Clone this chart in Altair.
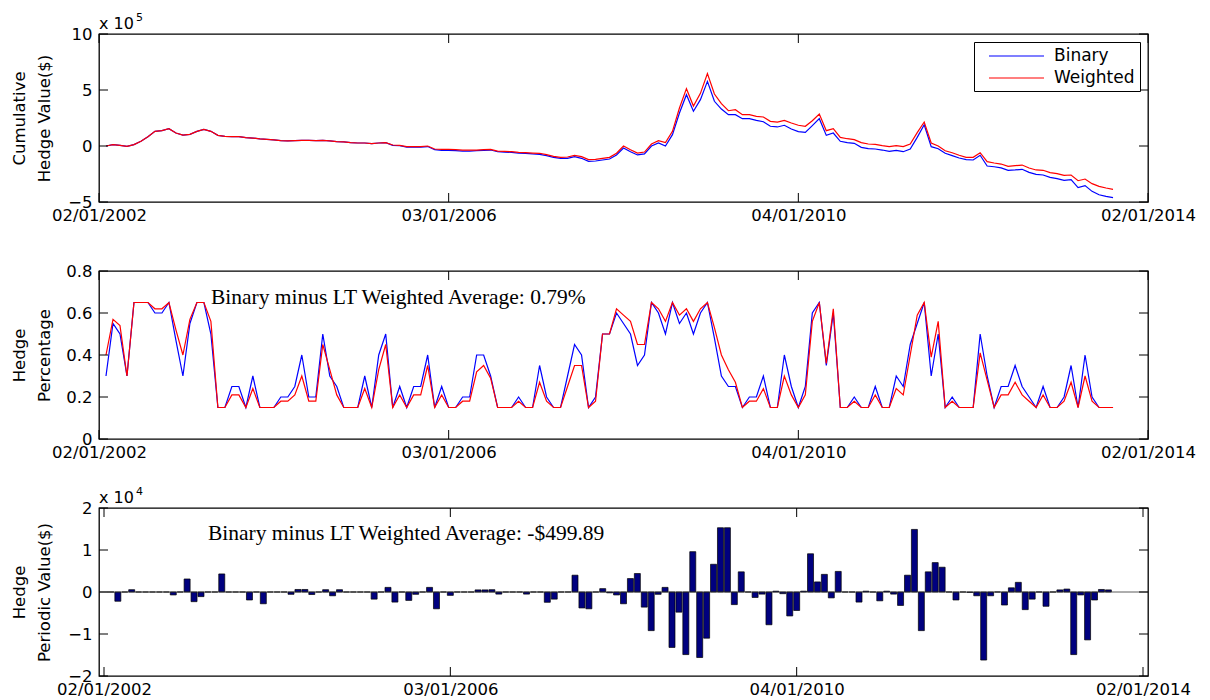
import altair as alt
import pandas as pd

# ---------------- data ----------------
# x positions are period indices 0..144
cum_binary = [  # cumulative hedge value, units of 1e5 $
    0.00, 0.12, 0.06, -0.03, 0.12, 0.42, 0.83, 1.31, 1.37, 1.55,
    1.16, 0.98, 1.04, 1.31, 1.49, 1.31, 0.95, 0.86, 0.83, 0.83,
    0.74, 0.71, 0.63, 0.60, 0.54, 0.48, 0.45, 0.48, 0.51, 0.51,
    0.48, 0.51, 0.45, 0.39, 0.36, 0.30, 0.27, 0.27, 0.21, 0.27,
    0.30, 0.06, 0.03, -0.10, -0.10, -0.10, -0.05, -0.33, -0.39, -0.39,
    -0.42, -0.45, -0.45, -0.42, -0.39, -0.36, -0.51, -0.54, -0.57, -0.63,
    -0.65, -0.71, -0.74, -0.86, -1.01, -1.10, -1.10, -0.95, -1.10, -1.37,
    -1.34, -1.25, -1.16, -0.80, -0.18, -0.51, -0.80, -0.71, 0.00, 0.27,
    0.00, 1.01, 2.95, 4.58, 3.10, 4.14, 5.77, 3.99, 3.30, 2.80,
    2.80, 2.44, 2.44, 2.29, 2.17, 1.76, 1.70, 1.85, 1.52, 1.28,
    1.22, 1.82, 2.44, 0.95, 1.16, 0.42, 0.30, 0.24, -0.12, -0.24,
    -0.27, -0.36, -0.48, -0.39, -0.51, -0.27, 0.77, 1.90, -0.06, -0.24,
    -0.65, -0.86, -1.07, -1.22, -1.25, -0.83, -1.79, -1.85, -1.96, -2.17,
    -2.14, -2.08, -2.35, -2.53, -2.59, -2.80, -2.92, -3.07, -3.01, -3.72,
    -3.54, -4.05, -4.35, -4.49, -4.61,
]
cum_weighted = [
    0.00, 0.12, 0.06, -0.03, 0.12, 0.42, 0.83, 1.31, 1.37, 1.55,
    1.16, 0.98, 1.04, 1.31, 1.49, 1.31, 0.95, 0.86, 0.83, 0.83,
    0.74, 0.71, 0.63, 0.60, 0.54, 0.48, 0.45, 0.48, 0.51, 0.51,
    0.48, 0.51, 0.45, 0.39, 0.36, 0.30, 0.27, 0.27, 0.21, 0.27,
    0.30, 0.09, 0.06, -0.06, -0.06, -0.06, 0.00, -0.27, -0.30, -0.30,
    -0.33, -0.36, -0.36, -0.36, -0.33, -0.30, -0.45, -0.48, -0.51, -0.57,
    -0.60, -0.63, -0.65, -0.77, -0.92, -1.01, -0.98, -0.83, -0.95, -1.22,
    -1.19, -1.10, -1.01, -0.65, 0.00, -0.33, -0.63, -0.54, 0.18, 0.48,
    0.30, 1.31, 3.39, 5.12, 3.57, 4.70, 6.46, 4.64, 3.78, 3.15,
    3.24, 2.80, 2.80, 2.65, 2.59, 2.20, 2.14, 2.29, 2.05, 1.85,
    1.76, 2.26, 2.86, 1.37, 1.55, 0.77, 0.65, 0.57, 0.30, 0.18,
    0.15, 0.03, -0.06, 0.03, -0.06, 0.18, 1.19, 2.14, 0.27, 0.00,
    -0.42, -0.60, -0.83, -1.01, -1.01, -0.60, -1.40, -1.52, -1.61, -1.82,
    -1.76, -1.70, -1.96, -2.14, -2.17, -2.38, -2.47, -2.62, -2.59, -3.10,
    -2.95, -3.36, -3.60, -3.75, -3.87,
]
pct_binary = [  # hedge percentage
    0.30, 0.55, 0.50, 0.30, 0.65, 0.65, 0.65, 0.60, 0.60, 0.65,
    0.47, 0.30, 0.55, 0.65, 0.65, 0.50, 0.15, 0.15, 0.25, 0.25,
    0.15, 0.30, 0.15, 0.15, 0.15, 0.20, 0.20, 0.25, 0.40, 0.20,
    0.20, 0.50, 0.30, 0.25, 0.15, 0.15, 0.15, 0.30, 0.15, 0.40,
    0.50, 0.15, 0.25, 0.15, 0.25, 0.25, 0.40, 0.15, 0.25, 0.15,
    0.15, 0.20, 0.20, 0.40, 0.40, 0.30, 0.15, 0.15, 0.15, 0.20,
    0.15, 0.15, 0.35, 0.20, 0.15, 0.15, 0.30, 0.45, 0.40, 0.15,
    0.20, 0.50, 0.50, 0.60, 0.55, 0.50, 0.35, 0.40, 0.65, 0.60,
    0.50, 0.65, 0.55, 0.60, 0.50, 0.60, 0.65, 0.48, 0.30, 0.25,
    0.25, 0.15, 0.20, 0.20, 0.30, 0.15, 0.15, 0.40, 0.25, 0.15,
    0.25, 0.60, 0.65, 0.35, 0.60, 0.15, 0.15, 0.20, 0.15, 0.15,
    0.25, 0.15, 0.15, 0.30, 0.25, 0.45, 0.55, 0.65, 0.30, 0.50,
    0.15, 0.20, 0.15, 0.15, 0.15, 0.50, 0.30, 0.15, 0.25, 0.25,
    0.35, 0.25, 0.20, 0.15, 0.25, 0.15, 0.15, 0.20, 0.35, 0.15,
    0.40, 0.20, 0.15, 0.15, 0.15,
]
pct_weighted = [
    0.40, 0.57, 0.54, 0.30, 0.65, 0.65, 0.65, 0.62, 0.62, 0.65,
    0.52, 0.40, 0.57, 0.65, 0.65, 0.56, 0.15, 0.15, 0.21, 0.21,
    0.15, 0.24, 0.15, 0.15, 0.15, 0.18, 0.18, 0.21, 0.30, 0.18,
    0.18, 0.45, 0.33, 0.21, 0.15, 0.15, 0.15, 0.24, 0.15, 0.33,
    0.45, 0.15, 0.21, 0.15, 0.21, 0.21, 0.35, 0.15, 0.21, 0.15,
    0.15, 0.18, 0.18, 0.32, 0.35, 0.29, 0.15, 0.15, 0.15, 0.18,
    0.15, 0.15, 0.27, 0.18, 0.15, 0.15, 0.25, 0.35, 0.35, 0.15,
    0.18, 0.50, 0.50, 0.62, 0.59, 0.56, 0.45, 0.45, 0.65, 0.62,
    0.56, 0.65, 0.59, 0.62, 0.56, 0.62, 0.65, 0.53, 0.40, 0.33,
    0.27, 0.15, 0.18, 0.18, 0.24, 0.15, 0.15, 0.30, 0.21, 0.15,
    0.21, 0.56, 0.65, 0.36, 0.62, 0.15, 0.15, 0.18, 0.15, 0.15,
    0.21, 0.15, 0.15, 0.24, 0.21, 0.40, 0.59, 0.65, 0.39, 0.56,
    0.15, 0.18, 0.15, 0.15, 0.15, 0.41, 0.28, 0.15, 0.21, 0.21,
    0.27, 0.21, 0.18, 0.15, 0.21, 0.15, 0.15, 0.18, 0.27, 0.15,
    0.30, 0.18, 0.15, 0.15, 0.15,
]
periodic_diff = [  # binary minus weighted, units of 1e4 $
    0.00, -0.22, 0.00, 0.055, 0.00, 0.00, 0.00, 0.00, 0.00, -0.07,
    0.00, 0.31, -0.23, -0.11, 0.00, 0.00, 0.43, 0.00, 0.00, 0.00,
    -0.19, 0.00, -0.28, 0.00, 0.00, 0.00, -0.055, 0.06, 0.06, -0.06,
    0.00, 0.055, -0.09, 0.055, 0.00, 0.00, 0.00, 0.00, -0.17, 0.00,
    0.11, -0.24, 0.00, -0.20, -0.055, 0.00, 0.11, -0.40, 0.00, -0.08,
    0.00, 0.00, 0.00, 0.05, 0.05, 0.055, -0.05, 0.00, 0.00, 0.00,
    -0.05, 0.00, 0.00, -0.245, -0.17, 0.00, 0.00, 0.40, -0.38, -0.40,
    0.00, 0.08, -0.02, -0.07, -0.28, 0.32, 0.44, -0.36, -0.92, -0.055,
    0.11, -1.32, -0.48, -1.49, 0.96, -1.56, -1.10, 0.66, 1.53, 1.53,
    -0.30, 0.48, 0.00, -0.13, -0.05, -0.78, 0.02, -0.04, -0.57, -0.44,
    0.02, 0.91, 0.24, 0.42, -0.14, 0.49, 0.00, 0.00, -0.24, 0.02,
    0.00, -0.21, 0.02, -0.05, -0.32, 0.40, 1.49, -0.92, 0.48, 0.70,
    0.59, 0.00, -0.19, 0.00, -0.01, -0.09, -1.62, -0.09, 0.00, -0.31,
    0.10, 0.23, -0.42, -0.17, 0.00, -0.34, 0.00, 0.05, 0.07, -1.49,
    -0.07, -1.14, -0.19, 0.06, 0.05,
]
series_names = ["Binary", "Weighted"]
series_colors = ["#0000FF", "#FF0000"]
x_tick_pos = [-1, 49, 99, 149]
x_tick_labels = ["02/01/2002", "03/01/2006", "04/01/2010", "02/01/2014"]
x_domain = [-1, 149]
cum_ticks = [-5, 0, 5, 10]
pct_ticks = [0, 0.2, 0.4, 0.6, 0.8]
per_ticks = [-2, -1, 0, 1, 2]
cum_title = ["Cumulative", "Hedge Value($)"]
pct_title = ["Hedge", "Percentage"]
per_title = ["Hedge", "Periodic Value($)"]
cum_exp = ["x 10", "5"]
per_exp = ["x 10", "4"]
note_pct = "Binary minus LT Weighted Average: 0.79%"
note_per = "Binary minus LT Weighted Average: -$499.89"
note_pct_pos = (15, 0.67)
note_per_pos = (14, 1.37)

# ---------------- chart ----------------
W, H = 1049, 168
TICK = 9
SANS = "DejaVu Sans"

idx = list(range(len(cum_binary)))

lab_expr = "''"
for p, l in reversed(list(zip(x_tick_pos, x_tick_labels))):
    lab_expr = f"datum.value == {p} ? '{l}' : ({lab_expr})"

xs = alt.Scale(domain=x_domain, nice=False, zero=False)


def x_main():
    return alt.X("i:Q", scale=xs, axis=alt.Axis(
        values=x_tick_pos, labelExpr=lab_expr, ticks=False, domain=False,
        grid=False, title=None, labelPadding=5, labelFlush=False,
        labelOverlap=False, labelFont=SANS, labelFontSize=16.5, labelColor="black"))


def y_main(ys, ticks, title):
    return alt.Y("v:Q", scale=ys, axis=alt.Axis(
        values=ticks, format="~f", ticks=False, domain=False, grid=False,
        title=title, titleX=-72, titleY=H / 2, titleAngle=-90,
        titleBaseline="bottom", titleLineHeight=25, labelPadding=7,
        labelFont=SANS, labelFontSize=16.5, titleFont=SANS, titleFontSize=16.5,
        titleFontWeight="normal", labelColor="black", titleColor="black"))


def tick_layers(ys, ticks):
    xt = pd.DataFrame({"i": x_tick_pos})
    yt = pd.DataFrame({"v": ticks})
    rule = dict(color="black", strokeWidth=1)
    xb = alt.Chart(xt).mark_rule(**rule).encode(
        x=alt.X("i:Q", scale=xs), y=alt.value(H), y2=alt.value(H - TICK))
    xtp = alt.Chart(xt).mark_rule(**rule).encode(
        x=alt.X("i:Q", scale=xs), y=alt.value(0), y2=alt.value(TICK))
    yl = alt.Chart(yt).mark_rule(**rule).encode(
        y=alt.Y("v:Q", scale=ys), x=alt.value(0), x2=alt.value(TICK))
    yr = alt.Chart(yt).mark_rule(**rule).encode(
        y=alt.Y("v:Q", scale=ys), x=alt.value(W - TICK), x2=alt.value(W))
    return [xb, xtp, yl, yr]


def exponent_layers(lbl):
    base = alt.Chart(pd.DataFrame({"t": [lbl[0]]})).mark_text(
        align="left", baseline="alphabetic", font=SANS, fontSize=16, color="black"
    ).encode(text="t:N", x=alt.value(0), y=alt.value(-5))
    sup = alt.Chart(pd.DataFrame({"t": [lbl[1]]})).mark_text(
        align="left", baseline="alphabetic", font=SANS, fontSize=11, color="black"
    ).encode(text="t:N", x=alt.value(37), y=alt.value(-13))
    return [base, sup]


def note_layer(text, pos, ys):
    d = pd.DataFrame({"i": [pos[0]], "v": [pos[1]], "t": [text]})
    return alt.Chart(d).mark_text(
        align="left", baseline="middle", font="Liberation Serif", fontSize=21.5,
        color="black"
    ).encode(x=alt.X("i:Q", scale=xs), y=alt.Y("v:Q", scale=ys), text="t:N")


# panel 1: cumulative
cum_df = pd.DataFrame({
    "i": idx + idx,
    "v": cum_binary + cum_weighted,
    "series": [series_names[0]] * len(idx) + [series_names[1]] * len(idx),
})
ys1 = alt.Scale(domain=[cum_ticks[0], cum_ticks[-1]], nice=False, zero=False)
lines1 = alt.Chart(cum_df).mark_line(strokeWidth=1.2).encode(
    x=x_main(),
    y=y_main(ys1, cum_ticks, cum_title),
    color=alt.Color("series:N", scale=alt.Scale(domain=series_names, range=series_colors),
                    legend=alt.Legend(title=None, orient="top-right", offset=8,
                                      symbolType="M0.125,0H7", symbolSize=256,
                                      symbolStrokeWidth=1.2, labelFont=SANS,
                                      labelFontSize=17, labelOffset=57,
                                      strokeColor="black", fillColor="white",
                                      padding=5, rowPadding=5, labelColor="black")),
)
p1 = alt.layer(lines1, *tick_layers(ys1, cum_ticks), *exponent_layers(cum_exp)).properties(
    width=W, height=H)

# panel 2: percentage
pct_df = pd.DataFrame({
    "i": idx + idx,
    "v": pct_binary + pct_weighted,
    "series": [series_names[0]] * len(idx) + [series_names[1]] * len(idx),
})
ys2 = alt.Scale(domain=[pct_ticks[0], pct_ticks[-1]], nice=False, zero=False)
lines2 = alt.Chart(pct_df).mark_line(strokeWidth=1.2).encode(
    x=x_main(),
    y=y_main(ys2, pct_ticks, pct_title),
    color=alt.Color("series:N", scale=alt.Scale(domain=series_names, range=series_colors),
                    legend=None),
)
p2 = alt.layer(lines2, note_layer(note_pct, note_pct_pos, ys2),
               *tick_layers(ys2, pct_ticks)).properties(width=W, height=H)

# panel 3: periodic
per_df = pd.DataFrame({"i": idx, "v": periodic_diff})
ys3 = alt.Scale(domain=[per_ticks[0], per_ticks[-1]], nice=False, zero=False)
bars = alt.Chart(per_df).mark_bar(size=6, orient="vertical", color="#00007F",
                                  stroke="black", strokeWidth=0.7).encode(
    x=x_main(),
    y=y_main(ys3, per_ticks, per_title),
)
base_rule = alt.Chart(pd.DataFrame({"v": [0]})).mark_rule(color="#333", strokeWidth=0.8).encode(
    y=alt.Y("v:Q", scale=ys3))
p3 = alt.layer(bars, base_rule, note_layer(note_per, note_per_pos, ys3),
               *tick_layers(ys3, per_ticks), *exponent_layers(per_exp)).properties(
    width=W, height=H)

chart = alt.vconcat(p1, p2, p3, spacing=69, bounds="flush").resolve_scale(
    color="independent").resolve_legend(color="independent").properties(
    padding={"left": 10, "top": 11, "right": 5, "bottom": 2},
    background="white",
).configure_view(stroke="black", strokeWidth=1.3)

chart.save("out.html", embed_options={"renderer": "svg", "actions": False})
